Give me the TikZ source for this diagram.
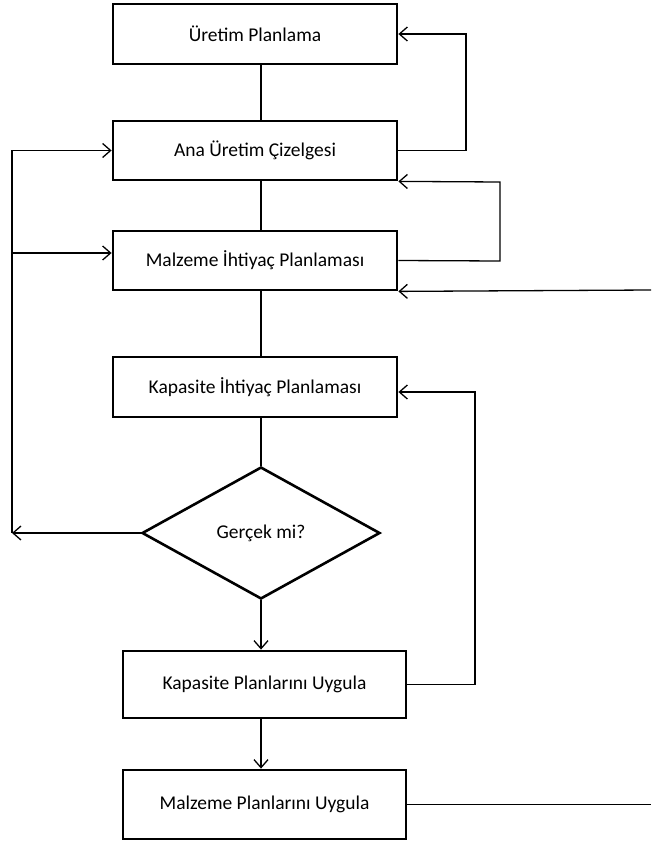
\documentclass[tikz,border=0pt]{standalone}
\usepackage{fontspec}
\setmainfont{Carlito}
\usetikzlibrary{arrows.meta,shapes.geometric}
\begin{document}
\begin{tikzpicture}[x=1pt,y=-1pt,
  box/.style={draw,line width=2.8pt,minimum width=284pt,inner sep=0pt,font=\fontsize{19.5}{23}\selectfont},
  dec/.style={draw,diamond,line width=2.6pt,minimum width=238pt,minimum height=132pt,inner sep=0pt,aspect=1.8,font=\fontsize{19.5}{23}\selectfont},
  con/.style={line width=1.3pt},
  arr/.style={con,-{Straight Barb[length=8pt,width=14pt,line width=1.3pt]}}]
\useasboundingbox (0,0) rectangle (651,845);
\node[box,minimum height=60pt] (b1) at (255,34) {Üretim Planlama};
\node[box,minimum height=59pt] (b2) at (255,150.5) {Ana Üretim Çizelgesi};
\node[box,minimum height=59pt] (b3) at (255,260.5) {Malzeme İhtiyaç Planlaması};
\node[box,minimum height=60pt] (b4) at (255,387) {Kapasite İhtiyaç Planlaması};
\node[dec] (d) at (261,533) {Gerçek mi?};
\node[box,minimum height=67pt,minimum width=283pt] (b5) at (264.5,684.5) {Kapasite Planlarını Uygula};
\node[box,minimum height=69pt,minimum width=283pt] (b6) at (264.5,804.5) {Malzeme Planlarını Uygula};
\coordinate (r1) at (466,150.5);
\coordinate (r2a) at (500,261);
\coordinate (r2b) at (500,182);
\coordinate (e1) at (651,290);
\coordinate (e2) at (651,804.5);
\coordinate (lt) at (12,150.5);
\coordinate (lb) at (12,533);
\coordinate (r3) at (475,684.5);
% spine
\draw[con] (b1.south -| d.north) -- (b2.north -| d.north);
\draw[con] (b2.south -| d.north) -- (b3.north -| d.north);
\draw[con] (b3.south -| d.north) -- (b4.north -| d.north);
\draw[con] (b4.south -| d.north) -- (d.north);
\draw[arr] (d.south) -- (b5.north -| d.south);
\draw[arr] (b5.south -| d.south) -- (b6.north -| d.south);
% right loops
\draw[arr] (b2.east) -- (r1) |- (b1.east);
\draw[arr] (b3.east) -- (r2a) -- (r2b) -- (b2.south east);
\draw[arr] (e1) -- (b3.south east);
\draw[arr] (b5.east) -- (r3) |- ([yshift=-5pt]b4.east);
\draw[con] (b6.east) -- (e2);
% left loop
\draw[arr] (d.west) -- (lb);
\draw[con] (lb) -- (lt);
\draw[arr] (lt) -- (b2.west);
\draw[arr] (lt |- 0,253) -- ([yshift=7.5pt]b3.west);
\end{tikzpicture}
\end{document}
